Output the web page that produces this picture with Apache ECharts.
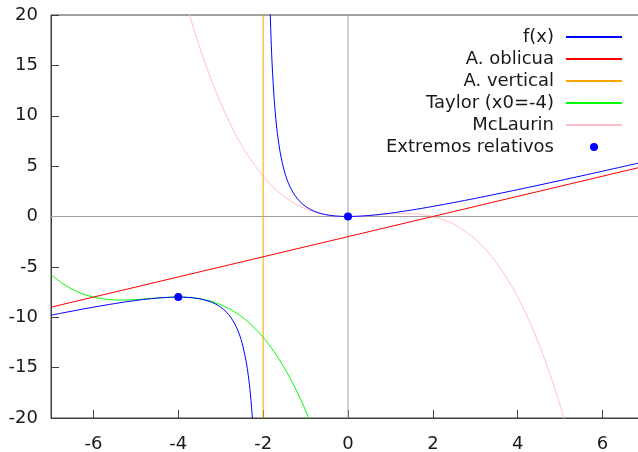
<!DOCTYPE html>
<html>
<head>
<meta charset="utf-8">
<script src="https://cdn.jsdelivr.net/npm/echarts@6/dist/echarts.min.js"></script>
<style>html,body{margin:0;padding:0;background:#fff}#c{width:638px;height:452px}</style>
</head>
<body>
<div id="c"></div>
<script>
// Tick labels
var xTicks = [-6, -4, -2, 0, 2, 4, 6];
var yTicks = [-20, -15, -10, -5, 0, 5, 10, 15, 20];

// f(x): left branch (x < -2)
var fLeftX = [-7, -6.75, -6.5, -6.25, -6, -5.75, -5.5, -5.25, -5, -4.75, -4.5, -4.25, -4, -3.75, -3.5, -3.25, -3.125, -3, -2.875, -2.75, -2.6, -2.5, -2.4, -2.35, -2.3, -2.25, -2.2, -2.15];
var fLeftY = [-9.8, -9.592, -9.389, -9.191, -9.0, -8.817, -8.643, -8.481, -8.333, -8.205, -8.1, -8.028, -8.0, -8.036, -8.167, -8.45, -8.681, -9.0, -9.446, -10.083, -11.267, -12.5, -14.4, -15.779, -17.633, -20.25, -24.2, -30.817];
// f(x): right branch (x > -2)
var fRightX = [-1.9, -1.85, -1.8, -1.75, -1.7, -1.65, -1.6, -1.55, -1.5, -1.45, -1.4, -1.35, -1.25, -1.125, -1, -0.875, -0.75, -0.625, -0.5, -0.375, -0.25, -0.125, 0, 0.25, 0.5, 0.75, 1, 1.5, 2, 2.5, 3, 3.5, 4, 4.5, 5, 5.5, 6, 6.5, 7];
var fRightY = [36.1, 22.817, 16.2, 12.25, 9.633, 7.779, 6.4, 5.339, 4.5, 3.823, 3.267, 2.804, 2.083, 1.446, 1.0, 0.681, 0.45, 0.284, 0.1667, 0.0865, 0.0357, 0.0083, 0, 0.0278, 0.1, 0.2045, 0.3333, 0.6429, 1.0, 1.3889, 1.8, 2.2273, 2.6667, 3.1154, 3.5714, 4.0333, 4.5, 4.9706, 5.4444];

// Oblique asymptote
var obliqX = [-7, 7];
var obliqY = [-9, 5];
// Vertical asymptote
var vertX = [-2, -2];
var vertY = [-20, 20];

// Taylor (x0=-4)
var taylorX = [-7, -6.75, -6.5, -6.25, -6, -5.75, -5.5, -5.25, -5, -4.75, -4.5, -4.25, -4, -3.75, -3.5, -3.25, -3, -2.75, -2.5, -2.25, -2, -1.75, -1.5, -1.25, -1, -0.75, -0.5];
var taylorY = [-5.75, -6.582, -7.219, -7.684, -8.0, -8.191, -8.281, -8.293, -8.25, -8.176, -8.094, -8.027, -8.0, -8.035, -8.156, -8.387, -8.75, -9.27, -9.969, -10.871, -12.0, -13.379, -15.031, -16.98, -19.25, -21.863, -24.844];

// McLaurin
var mclX = [-4, -3.75, -3.5, -3.25, -3, -2.75, -2.5, -2.25, -2, -1.75, -1.5, -1.25, -1, -0.75, -0.5, -0.25, 0, 0.25, 0.5, 0.75, 1, 1.25, 1.5, 1.75, 2, 2.25, 2.5, 2.75, 3, 3.25, 3.5, 3.75, 4, 4.25, 4.5, 4.75, 5, 5.25];
var mclY = [24.0, 20.215, 16.844, 13.863, 11.25, 8.98, 7.031, 5.379, 4.0, 2.871, 1.969, 1.27, 0.75, 0.387, 0.156, 0.035, 0, 0.027, 0.094, 0.176, 0.25, 0.293, 0.281, 0.191, 0, -0.316, -0.781, -1.418, -2.25, -3.301, -4.594, -6.152, -8.0, -10.16, -12.656, -15.512, -18.75, -22.395];

// Relative extremes
var extX = [-4, 0];
var extY = [-8, 0];

function pairs(xs, ys) { return xs.map(function (x, i) { return [x, ys[i]]; }); }

var fData = pairs(fLeftX, fLeftY).concat([[-2, null]]).concat(pairs(fRightX, fRightY));

var FONT = 'DejaVu Sans';
var noSym = { opacity: 0 };
var chart = echarts.init(document.getElementById('c'), null, { renderer: 'canvas' });
chart.setOption({
  animation: false,
  backgroundColor: '#ffffff',
  grid: { left: 51, top: 15, width: 594, height: 403, show: true, borderColor: '#404040', borderWidth: 1, backgroundColor: 'transparent', outerBoundsMode: 'none', containLabel: false },
  xAxis: {
    type: 'value', min: -7, max: 7,
    axisLine: { show: true, onZero: false, lineStyle: { color: '#404040', width: 1 } },
    axisTick: { show: true, inside: true, length: 8, customValues: xTicks, lineStyle: { color: '#404040' } },
    axisLabel: { customValues: xTicks, margin: 17, color: '#1a1a1a', fontFamily: FONT, fontSize: 18 },
    splitLine: { show: false }
  },
  yAxis: {
    type: 'value', min: -20, max: 20, interval: 5,
    axisLine: { show: true, onZero: false, lineStyle: { color: '#404040', width: 1 } },
    axisTick: { show: true, inside: true, length: 8, lineStyle: { color: '#404040' } },
    axisLabel: { margin: 13, color: '#1a1a1a', fontFamily: FONT, fontSize: 18 },
    splitLine: { show: false }
  },
  legend: {
    data: [
      { name: 'f(x)', itemStyle: noSym },
      { name: 'A. oblicua', itemStyle: noSym },
      { name: 'A. vertical', itemStyle: noSym },
      { name: 'Taylor (x0=-4)', itemStyle: noSym },
      { name: 'McLaurin', itemStyle: noSym },
      { name: 'Extremos relativos' }
    ],
    orient: 'vertical', align: 'right', right: 10, top: 23,
    itemWidth: 56, itemHeight: 10, itemGap: 4.0,
    textStyle: { fontFamily: FONT, fontSize: 18, color: '#1a1a1a', lineHeight: 18, padding: [0, 7, 0, 0] },
    selectedMode: false
  },
  series: [
    { name: 'zx', type: 'line', data: [[-7, 0], [7, 0]], symbol: 'none', silent: true, lineStyle: { color: '#a0a0a0', width: 1 } },
    { name: 'zy', type: 'line', data: [[0, -20], [0, 20]], symbol: 'none', silent: true, lineStyle: { color: '#a0a0a0', width: 1 } },
    { name: 'McLaurin', type: 'line', data: pairs(mclX, mclY), symbol: 'none', smooth: 0.3, lineStyle: { color: '#ffc0cb', width: 1 }, itemStyle: { color: '#ffc0cb' } },
    { name: 'Taylor (x0=-4)', type: 'line', data: pairs(taylorX, taylorY), symbol: 'none', smooth: 0.3, lineStyle: { color: '#00ff00', width: 1 }, itemStyle: { color: '#00ff00' } },
    { name: 'A. vertical', type: 'line', data: pairs(vertX, vertY), symbol: 'none', lineStyle: { color: '#ffa500', width: 1 }, itemStyle: { color: '#ffa500' } },
    { name: 'A. oblicua', type: 'line', data: pairs(obliqX, obliqY), symbol: 'none', lineStyle: { color: '#ff0000', width: 1 }, itemStyle: { color: '#ff0000' } },
    { name: 'f(x)', type: 'line', data: fData, symbol: 'none', smooth: 0.3, connectNulls: false, lineStyle: { color: '#0000ff', width: 1 }, itemStyle: { color: '#0000ff' } },
    { name: 'Extremos relativos', type: 'line', data: pairs(extX, extY), symbol: 'circle', symbolSize: 8, showSymbol: true, lineStyle: { opacity: 0, width: 0 }, itemStyle: { color: '#0000ff' } }
  ]
});
</script>
</body>
</html>
